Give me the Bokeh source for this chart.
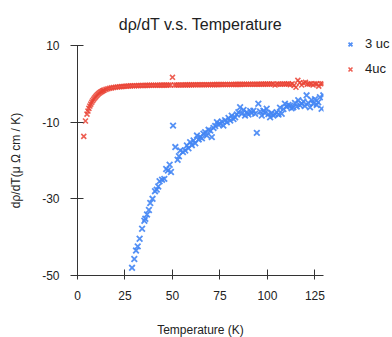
from bokeh.plotting import figure
from bokeh.models import Range1d, FixedTicker, Legend, LegendItem
from bokeh.embed import file_html
from bokeh.resources import INLINE

# ---- data ----
t_3uc = [28.7, 29.9, 30.8, 31.7, 32.7, 34.0, 35.2, 35.7, 36.6, 37.6, 38.3, 39.5, 40.8, 41.7, 42.5,
         43.2, 44.5, 45.7, 46.7, 47.6, 48.5, 49.2, 50.3, 51.5, 52.7, 53.4, 54.1, 55.5, 56.7, 57.6,
         58.4, 59.3, 60.2, 61.1, 62.0, 62.9, 63.8, 64.6, 65.5, 66.3, 67.2, 68.1, 69.0, 69.9, 70.7,
         71.6, 72.5, 73.4, 74.2, 75.1, 76.0, 76.8, 77.7, 78.6, 79.5, 80.4, 81.2, 82.1, 83.0, 83.9,
         84.7, 85.6, 86.5, 87.4, 88.2, 89.1, 90.0, 90.9, 91.7, 92.6, 93.5, 94.4, 95.2, 96.1, 97.0,
         97.9, 98.7, 99.6, 100.5, 101.4, 102.2, 103.1, 104.0, 104.9, 105.8, 106.6, 107.5, 108.4,
         109.2, 110.1, 111.0, 111.9, 112.7, 113.6, 114.5, 115.4, 116.2, 117.1, 118.0, 118.9, 119.7,
         120.6, 121.5, 122.4, 123.2, 124.1, 125.0, 125.9, 126.7, 127.6, 128.5, 129.4]
d_3uc = [-48.0, -45.7, -43.5, -42.4, -40.4, -37.8, -35.7, -35.2, -34.1, -32.9, -31.1, -30.0, -28.0, -27.6, -26.8,
         -25.4, -25.0, -24.8, -22.2, -22.6, -21.1, -23.0, -10.9, -16.5, -19.8, -18.9, -17.4, -17.8, -17.4, -16.1,
         -16.8, -15.2, -16.0, -14.8, -15.5, -13.5, -14.5, -13.9, -14.2, -13.0, -12.6, -13.5, -12.0, -12.2, -13.9,
         -11.5, -11.0, -10.0, -10.6, -10.4, -9.8, -10.9, -9.5, -10.0, -8.9, -9.6, -8.3, -9.2, -8.7, -8.0,
         -7.4, -6.1, -7.8, -6.8, -8.3, -7.4, -8.0, -7.1, -7.6, -7.0, -7.8, -12.8, -5.2, -7.2, -8.3,
         -7.0, -7.6, -6.5, -7.9, -8.7, -7.6, -8.3, -7.9, -7.4, -8.0, -6.2, -7.8, -6.6,
         -5.2, -6.0, -5.5, -5.7, -6.4, -6.1, -5.0, -5.9, -4.3, -5.6, -5.2, -4.6, -5.8,
         -3.0, -5.0, -6.1, -4.2, -5.2, -4.0, -5.5, -4.8, -3.5, -6.5, -3.0]

t_4uc = [3.3, 4.2, 5.0, 5.5, 6.0, 6.5, 7.0, 7.5, 8.0, 8.5, 9.0, 9.5, 10, 10.5, 11, 11.5, 12, 12.5, 13, 13.5,
         14, 15, 16, 17, 18, 19, 20, 21, 22, 23, 24, 25, 26, 27, 28, 29, 30, 31, 32, 33, 34, 35, 36, 37,
         38, 39, 40, 41, 42, 43, 44, 45, 46, 47, 48, 49, 50, 51, 52, 53, 54, 55, 56, 57, 58, 59, 60, 61,
         62, 63, 64, 65, 66, 67, 68, 69, 70, 71, 72, 73, 74, 75, 76, 77, 78, 79, 80, 81, 82, 83, 84, 85,
         86, 87, 88, 89, 90, 91, 92, 93, 94, 95, 96, 97, 98, 99, 100, 101, 102, 103, 104, 105, 106, 107,
         108, 109, 110, 111, 112, 113, 114, 115, 116, 117, 118, 119, 120, 121, 122, 123, 124, 125, 126,
         127, 128, 129]
d_4uc = [-13.7, -9.7, -7.9, -7.1, -6.4, -5.8, -5.3, -4.8, -4.4, -4.0, -3.7, -3.4, -3.1, -2.85, -2.6, -2.4, -2.2, -2.05, -1.9, -1.75,
         -1.65, -1.45, -1.3, -1.15, -1.05, -0.95, -0.88, -0.82, -0.77, -0.72, -0.68, -0.64, -0.6, -0.57, -0.54, -0.52, -0.5, -0.48, -0.46, -0.45, -0.43, -0.42, -0.41, -0.4,
         -0.39, -0.38, -0.37, -0.36, -0.36, -0.35, -0.34, -0.34, -0.33, -0.33, -0.32, -0.32, 1.7, -0.31, -0.31, -0.3, -0.3, -0.29, -0.29, -0.28, -0.28, -0.27, -0.27, -0.26,
         -0.26, -0.25, -0.25, -0.24, -0.24, -0.23, -0.23, -0.22, -0.22, -0.21, -0.21, -0.2, -0.2, -0.19, -0.19, -0.18, -0.18, -0.17, -0.17, -0.16, -0.16, -0.15, -0.15, -0.14,
         -0.14, -0.13, -0.13, -0.12, -0.12, -0.11, -0.11, -0.1, -0.1, -0.09, -0.09, -0.08, -0.08, -0.07, -0.07, -0.06, -0.06, -0.05, -0.3, -0.05, -0.04, -0.1, -0.04, -0.03,
         -0.03, -0.02, -0.2, -0.02, -0.4, -0.9, 0.9, 0.3, -0.3, 0.2, 0.4, -0.1, -0.01, 0.0, -0.3, 0.0, 0.0, -0.6, 0.0,
         0.0, 0.0, 0.0]

x_ticks = [0, 25, 50, 75, 100, 125]
y_ticks = [-50, -30, -10, 10]
y_tick_labels = {-50: "-50", -30: "-30", -10: "-10", 10: "10"}

BLUE = "#4285f4"
RED = "#ea4335"
FONT = "Liberation Sans"

p = figure(frame_width=246, frame_height=230, output_backend="svg", toolbar_location=None,
           x_range=Range1d(0, 129.5), y_range=Range1d(-50, 10),
           min_border_left=77, min_border_right=68, min_border_top=45, min_border_bottom=61,
           title="dρ/dT v.s. Temperature")
p.title.align = "center"
p.title.text_font = FONT
p.title.text_font_size = "16px"
p.title.text_font_style = "normal"
p.title.text_color = "#222222"
p.title.standoff = 26

p.outline_line_color = None
p.xgrid.grid_line_color = None
p.ygrid.grid_line_color = None

for ax in (p.xaxis[0], p.yaxis[0]):
    ax.axis_line_color = "#333333"
    ax.major_tick_line_color = "#333333"
    ax.minor_tick_line_color = None
    ax.major_label_text_font = FONT
    ax.major_label_text_font_size = "12px"
    ax.major_label_text_color = "#222222"
    ax.axis_label_text_font = FONT
    ax.axis_label_text_font_size = "12px"
    ax.axis_label_text_font_style = "normal"
    ax.axis_label_text_color = "#222222"

p.xaxis.ticker = FixedTicker(ticks=x_ticks)
p.yaxis.ticker = FixedTicker(ticks=y_ticks)
p.yaxis.major_label_overrides = y_tick_labels
p.xaxis.major_tick_in = 6
p.xaxis.major_tick_out = 4
p.yaxis.major_tick_in = 6
p.yaxis.major_tick_out = 7
p.xaxis.major_label_standoff = 11
p.yaxis.major_label_standoff = 11
p.xaxis.axis_label = "Temperature (K)"
p.yaxis.axis_label = "dρ/dT(μ Ω cm / K)"
p.xaxis.axis_label_standoff = 20
p.yaxis.axis_label_standoff = 16

r3 = p.scatter(t_3uc, d_3uc, marker="x", size=8, line_width=1.8, line_color=BLUE, line_alpha=0.9)
r4 = p.scatter(t_4uc, d_4uc, marker="x", size=7, line_width=1.6, line_color=RED, line_alpha=0.85)

legend = Legend(items=[LegendItem(label="3 uc", renderers=[r3]), LegendItem(label="4uc", renderers=[r4])],
                location=(20, 199), margin=0, padding=0, border_line_color=None,
                glyph_width=14, glyph_height=14, label_standoff=8, spacing=10,
                label_text_font=FONT, label_text_font_size="13px", label_text_color="#222222",
                background_fill_alpha=0)
p.add_layout(legend, "right")

open("out.html", "w").write(file_html(p, INLINE))
